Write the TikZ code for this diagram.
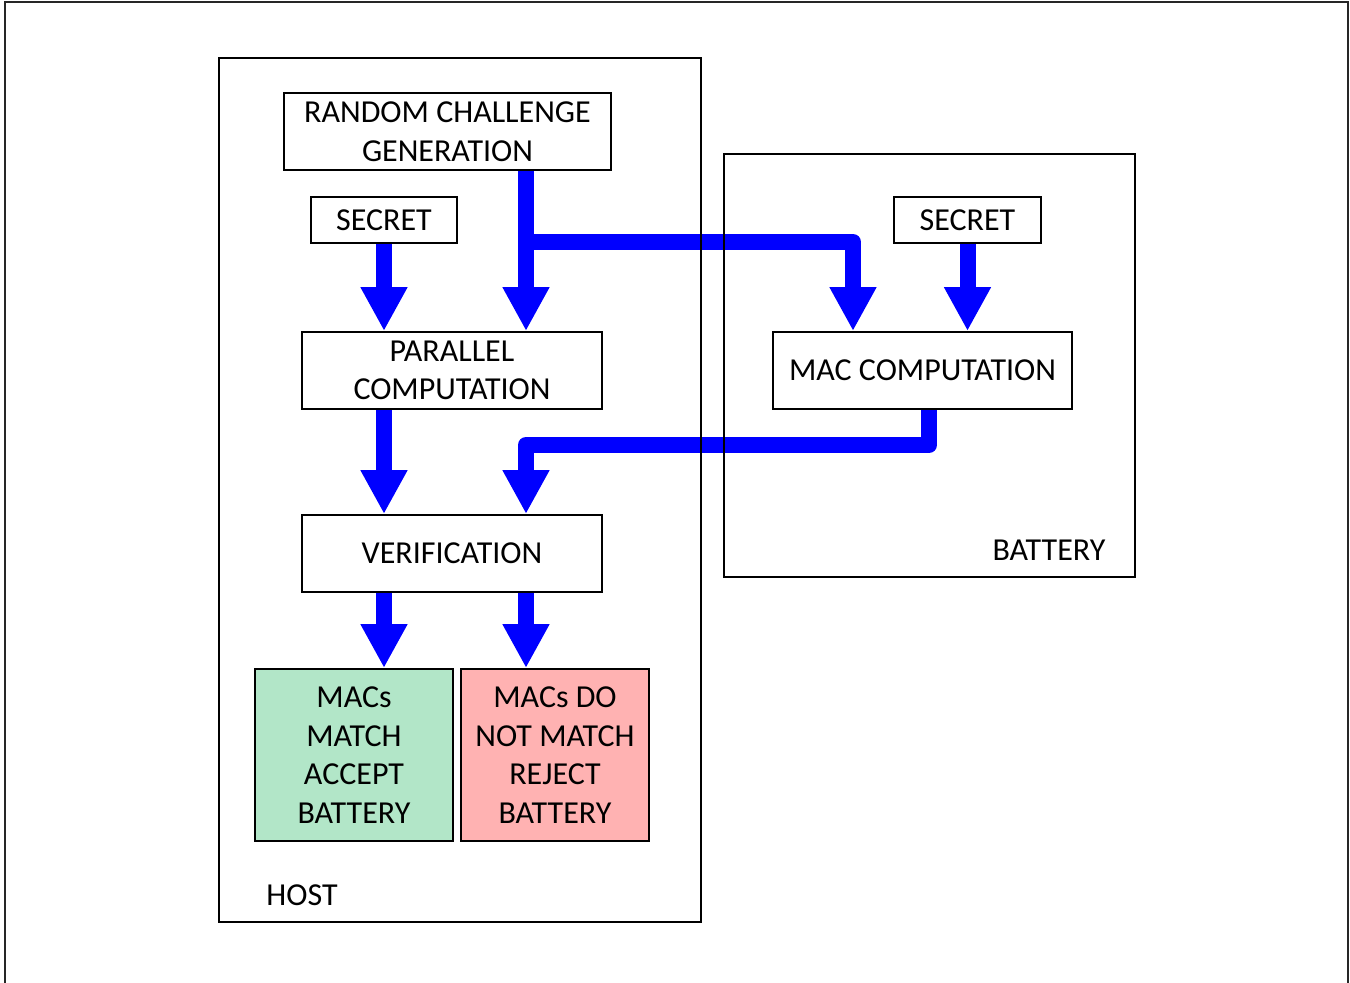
\documentclass[tikz,border=0pt]{standalone}
\usepackage{fontspec}
\setmainfont{Carlito}
\usetikzlibrary{arrows.meta, calc}
\definecolor{colFlow}{RGB}{0,0,255}
\definecolor{colBorder}{RGB}{0,0,0}
\definecolor{colAccept}{RGB}{178,230,200}
\definecolor{colReject}{RGB}{255,178,178}
\tikzset{
  stepBox/.style={
    rectangle, draw=colBorder, line width=1pt,
    fill=white, text centered, align=center,
    font=\fontsize{16}{19.3}\selectfont,
    inner sep=0pt
  },
  unitBox/.style={
    rectangle, draw=colBorder, line width=1pt, inner sep=0pt
  },
  flow/.style={
    -{Triangle[length=22pt, width=22pt]}, line width=8pt,
    color=colFlow, line join=round
  },
  unitLabel/.style={
    font=\fontsize{16}{19.3}\selectfont
  }
}

\begin{document}
\begin{tikzpicture}[x=0.5pt, y=-0.5pt]

  \useasboundingbox (0,0) rectangle (1350,982);
  \draw[line width=1pt, draw=black!85] (5,990) -- (5,2) -- (1348,2) -- (1348,990);

  % host side
  \node[stepBox, minimum width=163.5pt, minimum height=38.5pt] (rcg) at (447.5,131.5) {RANDOM CHALLENGE\\GENERATION};
  \node[stepBox, minimum width=73pt, minimum height=23pt] (secH) at (384,220) {SECRET};
  \node[stepBox, minimum width=150pt, minimum height=38.5pt] (par) at (452,370.5) {PARALLEL\\COMPUTATION};
  \node[stepBox, minimum width=150pt, minimum height=38.5pt] (ver) at (452,553.5) {VERIFICATION};
  \node[stepBox, fill=colAccept, minimum width=99pt, minimum height=86pt] (acc) at (354,755) {MACs\\MATCH\\ACCEPT\\BATTERY};
  \node[stepBox, fill=colReject, minimum width=94pt, minimum height=86pt] (rej) at (555,755) {MACs DO\\NOT MATCH\\REJECT\\BATTERY};

  % battery side
  \node[stepBox, minimum width=73.5pt, minimum height=23pt] (secB) at (967.5,220) {SECRET};
  \node[stepBox, minimum width=149.5pt, minimum height=38.5pt] (mac) at (922.5,370.5) {MAC COMPUTATION};

  % lanes and bends
  \coordinate (laneA) at (384,0);
  \coordinate (split) at (526,242);
  \coordinate (bend1) at (853,242);
  \coordinate (bend2) at (929,445);
  \coordinate (bend3) at (526,445);

  % challenge and secrets
  \draw[flow] (secH.south) -- (par.north -| secH.south);
  \draw[flow] (rcg.south -| split) -- (par.north -| split);
  \draw[flow] (split) -- (bend1) -- (mac.north -| bend1);
  \draw[flow] (secB.south) -- (mac.north -| secB.south);

  % results to verification
  \draw[flow] (par.south -| laneA) -- (ver.north -| laneA);
  \draw[flow] (mac.south -| bend2) -- (bend2) -- (bend3) -- (ver.north -| bend3);

  % decision
  \draw[flow] (ver.south -| laneA) -- (acc.north -| laneA);
  \draw[flow] (ver.south -| split) -- (rej.north -| split);

  % units (drawn last, borders over the flow)
  \node[unitBox, minimum width=241pt, minimum height=432pt] (host) at (460,490) {};
  \node[unitBox, minimum width=205.5pt, minimum height=211.5pt] (bat) at (929.5,365.5) {};
  \node[unitLabel] (hostLbl) at (302,895) {HOST};
  \node[unitLabel] (batLbl) at (1049,550) {BATTERY};

\end{tikzpicture}
\end{document}
